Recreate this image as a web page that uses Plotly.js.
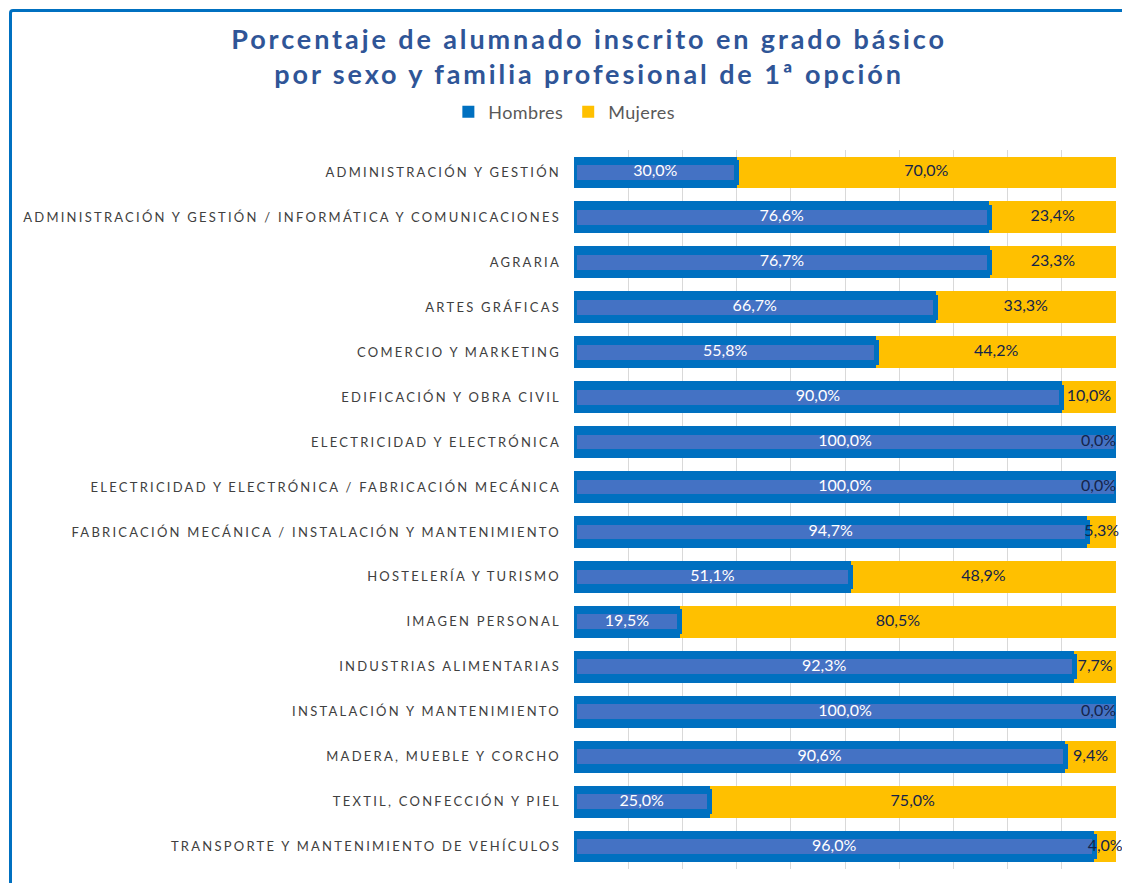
<!DOCTYPE html>
<html>
<head>
<meta charset="utf-8">
<script src="https://cdn.plot.ly/plotly-3.0.1.min.js"></script>
<style>
  html, body { margin: 0; padding: 0; background: #ffffff; overflow: hidden; }
  #frame { position: absolute; left: 9px; top: 9px; width: 1300px; height: 1000px;
           border-top: 3px solid #0070C0; border-left: 3px solid #0070C0; border-top-left-radius: 4px; }
  #chart { position: absolute; left: 0; top: 0; width: 1122px; height: 883px; }
  .ytick text { letter-spacing: 2.25px; }
  .gtitle { letter-spacing: 2.9px; }
  .legendtext { letter-spacing: 0.4px; }
</style>
</head>
<body>
<div id="frame"></div>
<div id="chart"></div>
<script>
const categories = [
  "ADMINISTRACIÓN Y GESTIÓN",
  "ADMINISTRACIÓN Y GESTIÓN / INFORMÁTICA Y COMUNICACIONES",
  "AGRARIA",
  "ARTES GRÁFICAS",
  "COMERCIO Y MARKETING",
  "EDIFICACIÓN Y OBRA CIVIL",
  "ELECTRICIDAD Y ELECTRÓNICA",
  "ELECTRICIDAD Y ELECTRÓNICA / FABRICACIÓN MECÁNICA",
  "FABRICACIÓN MECÁNICA / INSTALACIÓN Y MANTENIMIENTO",
  "HOSTELERÍA Y TURISMO",
  "IMAGEN PERSONAL",
  "INDUSTRIAS ALIMENTARIAS",
  "INSTALACIÓN Y MANTENIMIENTO",
  "MADERA, MUEBLE Y CORCHO",
  "TEXTIL, CONFECCIÓN Y PIEL",
  "TRANSPORTE Y MANTENIMIENTO DE VEHÍCULOS"
];
const hombres = [30.0, 76.6, 76.7, 66.7, 55.8, 90.0, 100.0, 100.0, 94.7, 51.1, 19.5, 92.3, 100.0, 90.6, 25.0, 96.0];
const mujeres = [70.0, 23.4, 23.3, 33.3, 44.2, 10.0, 0.0, 0.0, 5.3, 48.9, 80.5, 7.7, 0.0, 9.4, 75.0, 4.0];
const seriesNames = ["Hombres", "Mujeres"];

const FONT = "Lato, 'Open Sans', sans-serif";
const fmt = v => v.toFixed(1).replace(".", ",") + "%";

// label positions: middle of each segment
const hombresMid = hombres.map(v => v / 2);
const mujeresMid = hombres.map((v, i) => v + mujeres[i] / 2);
// empty segments sit at the right edge: keep their label inside the picture
const mujeresPos = mujeres.map(v => (v === 0 ? "middle left" : "middle center"));

const traces = [
  {
    type: "bar", orientation: "h", name: seriesNames[0],
    y: categories, x: hombres, width: 0.71,
    marker: { color: "#0070C0" },
    hoverinfo: "skip", textposition: "none"
  },
  {
    type: "bar", orientation: "h", name: seriesNames[1],
    y: categories, x: mujeres, width: 0.71,
    marker: { color: "#FFC000" },
    hoverinfo: "skip", textposition: "none"
  },
  {
    type: "bar", orientation: "h", name: seriesNames[0] + " inner",
    y: categories, x: hombres, width: 0.44, yaxis: "y2",
    showlegend: false,
    marker: { color: "#4472C4", line: { color: "#0070C0", width: 5 } },
    hoverinfo: "skip", textposition: "none"
  },
  {
    type: "scatter", mode: "text", yaxis: "y2", showlegend: false,
    y: categories, x: hombresMid, text: hombres.map(fmt),
    textposition: "middle center", cliponaxis: false,
    textfont: { family: FONT, size: 16, color: "#ffffff" },
    hoverinfo: "skip"
  },
  {
    type: "scatter", mode: "text", yaxis: "y2", showlegend: false,
    y: categories, x: mujeresMid, text: mujeres.map(fmt),
    textposition: mujeresPos, cliponaxis: false,
    textfont: { family: FONT, size: 16, color: "#14244A" },
    hoverinfo: "skip"
  }
];

const layout = {
  width: 1122, height: 883,
  paper_bgcolor: "rgba(0,0,0,0)", plot_bgcolor: "rgba(0,0,0,0)",
  margin: { l: 574, r: 6, t: 150, b: 14, autoexpand: false },
  barmode: "stack",
  font: { family: FONT, color: "#404040" },
  title: {
    text: "Porcentaje de alumnado inscrito en grado básico<br>por sexo y familia profesional de 1ª opción",
    font: { family: FONT, size: 27, weight: 700, color: "#2F5597" },
    xref: "container", x: 0.525, xanchor: "center",
    yref: "container", y: 1 - 49/883, yanchor: "top",
    automargin: false
  },
  showlegend: true,
  legend: {
    orientation: "h", xref: "container", x: 0.503, xanchor: "center",
    yref: "container", y: 1 - 112/883, yanchor: "middle",
    font: { family: FONT, size: 18, color: "#595959" },
    itemwidth: 30, traceorder: "normal"
  },
  xaxis: {
    range: [0, 100], dtick: 10, showticklabels: false,
    showgrid: true, gridcolor: "#D9D9D9", gridwidth: 1,
    zeroline: false, showline: false, fixedrange: true, automargin: false
  },
  yaxis: {
    type: "category", categoryorder: "array", categoryarray: categories,
    range: [categories.length - 0.5, -0.5], autorange: false,
    showgrid: false, zeroline: false, showline: false,
    ticks: "", ticklabelstandoff: 12, automargin: false,
    tickfont: { family: FONT, size: 13, color: "#404040" }
  },
  yaxis2: {
    type: "category", overlaying: "y", matches: "y", showticklabels: false,
    showgrid: false, zeroline: false, showline: false, ticks: ""
  }
};

Plotly.newPlot("chart", traces, layout, { staticPlot: true, displayModeBar: false });
</script>
</body>
</html>
